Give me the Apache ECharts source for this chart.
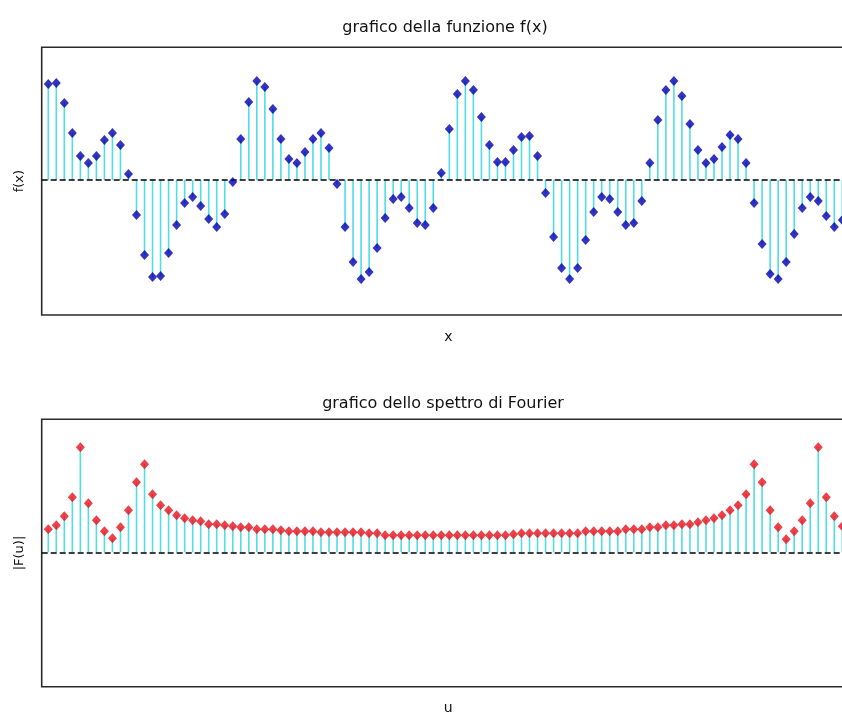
<!DOCTYPE html>
<html>
<head>
<meta charset="utf-8">
<script src="https://cdn.jsdelivr.net/npm/echarts@6/dist/echarts.min.js"></script>
<style>
html,body{margin:0;padding:0;background:#fff;}
#c{width:842px;height:714px;}
</style>
</head>
<body>
<div id="c"></div>
<script>
// sample index (x and u)
const idx = [0,1,2,3,4,5,6,7,8,9,10,11,12,13,14,15,16,17,18,19,20,21,22,23,24,25,26,27,28,29,30,31,32,33,34,35,36,37,38,39,40,41,42,43,44,45,46,47,48,49,50,51,52,53,54,55,56,57,58,59,60,61,62,63,64,65,66,67,68,69,70,71,72,73,74,75,76,77,78,79,80,81,82,83,84,85,86,87,88,89,90,91,92,93,94,95,96,97,98,99];

// f(x) samples
const fx = [0.96,0.97,0.77,0.47,0.24,0.17,0.24,0.40,0.47,0.35,
            0.06,-0.35,-0.75,-0.97,-0.96,-0.73,-0.45,-0.23,-0.17,-0.26,
            -0.39,-0.47,-0.34,-0.02,0.41,0.78,0.99,0.93,0.71,0.41,
            0.21,0.17,0.28,0.41,0.47,0.32,-0.04,-0.47,-0.82,-0.99,
            -0.92,-0.68,-0.38,-0.19,-0.17,-0.28,-0.43,-0.45,-0.28,0.07,
            0.51,0.86,0.99,0.90,0.63,0.35,0.18,0.18,0.30,0.43,
            0.44,0.24,-0.13,-0.57,-0.88,-0.99,-0.88,-0.60,-0.32,-0.17,
            -0.19,-0.32,-0.45,-0.43,-0.21,0.17,0.60,0.90,0.99,0.84,
            0.56,0.30,0.17,0.21,0.33,0.45,0.41,0.17,-0.23,-0.64,
            -0.94,-0.99,-0.82,-0.54,-0.28,-0.17,-0.21,-0.36,-0.47,-0.40];

// |F(u)| spectrum magnitude
const Fu = [0.23,0.27,0.36,0.55,1.05,0.49,0.32,0.21,0.14,0.25,
            0.42,0.70,0.88,0.58,0.47,0.42,0.37,0.34,0.32,0.31,
            0.28,0.28,0.27,0.26,0.25,0.25,0.23,0.23,0.23,0.22,
            0.21,0.21,0.21,0.21,0.20,0.20,0.20,0.20,0.20,0.20,
            0.19,0.19,0.17,0.17,0.17,0.17,0.17,0.17,0.17,0.17,
            0.17,0.17,0.17,0.17,0.17,0.17,0.17,0.17,0.18,0.19,
            0.19,0.19,0.19,0.19,0.19,0.19,0.19,0.21,0.21,0.21,
            0.21,0.21,0.23,0.23,0.23,0.25,0.25,0.27,0.27,0.28,
            0.28,0.30,0.32,0.34,0.37,0.42,0.47,0.58,0.88,0.70,
            0.42,0.25,0.13,0.21,0.32,0.49,1.05,0.55,0.36,0.26];

const titles = ['grafico della funzione f(x)', 'grafico dello spettro di Fourier'];
const xNames = ['x', 'u'];
const yNames = ['f(x)', '|F(u)|'];

const FONT = "'DejaVu Sans','Liberation Sans',Arial,sans-serif";
const TXT = '#111';
const STEM = '#4fdde6';

const pair = (a, b) => a.map((v, i) => [v, b[i]]);

function panel(k, data, markColor) {
  return [
    {
      type: 'bar', xAxisIndex: k, yAxisIndex: k,
      data: pair(idx, data), barWidth: 1.6,
      itemStyle: { color: STEM }, silent: true, z: 2
    },
    {
      type: 'scatter', xAxisIndex: k, yAxisIndex: k,
      data: pair(idx, data), symbol: 'diamond', symbolSize: [9, 10],
      itemStyle: { color: markColor }, z: 4,
      markLine: {
        silent: true, symbol: ['none', 'none'], label: { show: false },
        lineStyle: { color: '#000', type: [6, 3], width: 1.5 },
        data: [{ yAxis: 0 }], z: 3
      }
    }
  ];
}

const xAxisBase = (k) => ({
  type: 'value', gridIndex: k, min: -0.82, max: 99.82,
  axisLine: { show: false, onZero: false }, axisTick: { show: false },
  axisLabel: { show: false }, splitLine: { show: false },
  name: xNames[k], nameLocation: 'middle', nameGap: 15,
  nameTextStyle: { fontFamily: FONT, fontSize: 14, color: TXT, padding: [0, 0, 0, 6] }
});
const yAxisBase = (k, mn, mx) => ({
  type: 'value', gridIndex: k, min: mn, max: mx,
  axisLine: { show: false }, axisTick: { show: false },
  axisLabel: { show: false }, splitLine: { show: false },
  name: yNames[k], nameLocation: 'middle', nameGap: 16, nameRotate: 90,
  nameTextStyle: { fontFamily: FONT, fontSize: 13, color: TXT }
});

const chart = echarts.init(document.getElementById('c'), null, { renderer: 'canvas' });
chart.setOption({
  animation: false,
  backgroundColor: '#fff',
  title: [
    { text: titles[0], left: 440, top: 15, textAlign: 'center',
      textStyle: { fontFamily: FONT, fontSize: 16, fontWeight: 'normal', color: TXT } },
    { text: titles[1], left: 438, top: 391, textAlign: 'center',
      textStyle: { fontFamily: FONT, fontSize: 16, fontWeight: 'normal', color: TXT } }
  ],
  grid: [
    { left: 41.7, top: 47.3, width: 807.2, height: 267.7, show: true,
      outerBoundsMode: 'none', containLabel: false,
      borderColor: '#2a2a2a', borderWidth: 1.6, backgroundColor: 'transparent' },
    { left: 41.7, top: 419.3, width: 807.2, height: 267.4, show: true,
      outerBoundsMode: 'none', containLabel: false,
      borderColor: '#2a2a2a', borderWidth: 1.6, backgroundColor: 'transparent' }
  ],
  xAxis: [xAxisBase(0), xAxisBase(1)],
  yAxis: [yAxisBase(0, -1.35, 1.327), yAxisBase(1, -1.344, 1.33)],
  series: [].concat(panel(0, fx, '#0000b0'), panel(1, Fu, '#e8101a'))
});
</script>
</body>
</html>
